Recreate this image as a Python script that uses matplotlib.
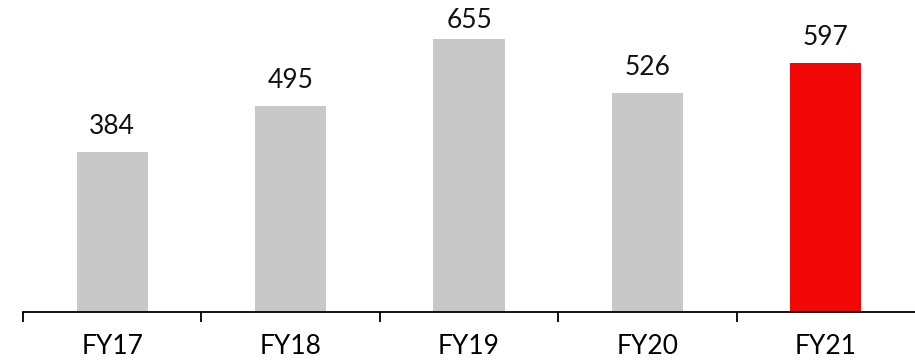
import matplotlib.pyplot as plt
import numpy as np

years = ['FY17', 'FY18', 'FY19', 'FY20', 'FY21']
values = [384, 495, 655, 526, 597]
colors = ['#c8c8c8', '#c8c8c8', '#c8c8c8', '#c8c8c8', '#f20707']

plt.rcParams['font.family'] = ['Lato', 'DejaVu Sans']

fig = plt.figure(figsize=(9.15, 3.61), dpi=100)
ax = fig.add_axes([23 / 915, 49 / 361, 1 - 23 / 915, 312 / 361])

x = np.arange(len(years))
ax.bar(x, values, width=0.4, color=colors)
for xi, v in zip(x, values):
    # keep the tallest label inside the figure
    ax.text(xi, min(v + 43, 681), str(v), ha='center', va='baseline',
            fontsize=19, color='#111111')

ax.set_xlim(-0.5, len(years) - 0.5)
ax.set_ylim(0, 748)
ax.set_yticks([])
ax.set_xticks(x)
ax.set_xticklabels(years, fontsize=19)
ax.tick_params(axis='x', length=0, pad=16)
# category boundary ticks (last one falls off the edge)
ax.set_xticks(np.arange(-0.5, len(years) - 1, 1.0), minor=True)
ax.tick_params(axis='x', which='minor', length=7, width=1.3, direction='out')
for s in ['top', 'right', 'left']:
    ax.spines[s].set_visible(False)
ax.spines['bottom'].set_linewidth(1.3)

plt.savefig('out.png', dpi=100)
